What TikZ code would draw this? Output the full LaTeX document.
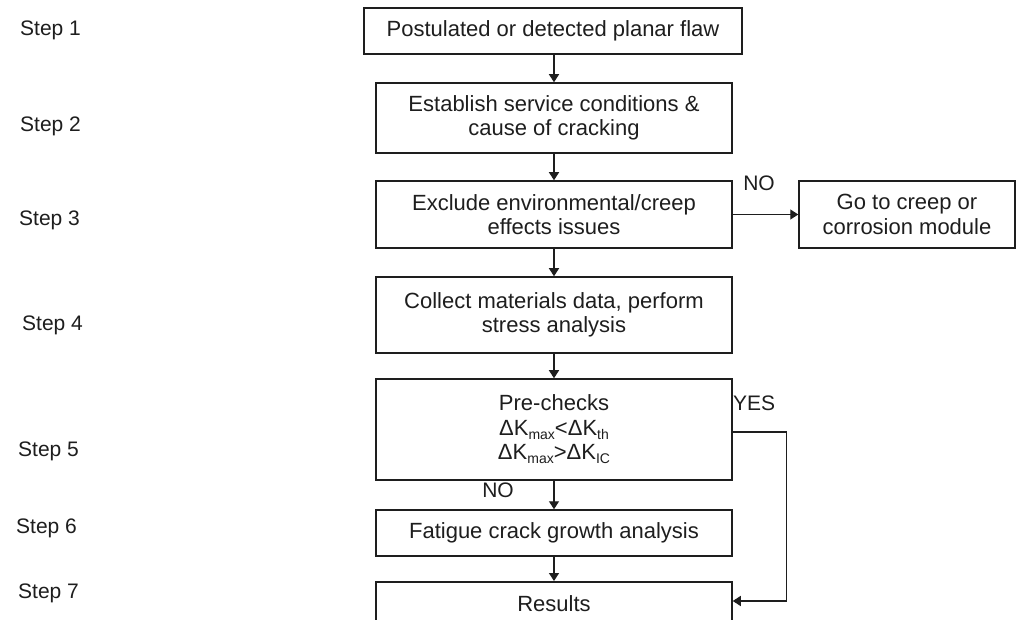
\documentclass[tikz,border=0pt]{standalone}
\usepackage{fontspec}
\setmainfont{Liberation Sans}
\usetikzlibrary{arrows.meta}
% lowered, smaller index text for the Delta K expressions
\newcommand{\lowsub}[1]{\raisebox{-0.35ex}{\fontsize{14}{14}\selectfont #1}}
\definecolor{ink}{HTML}{1E1E1E}
\begin{document}
\begin{tikzpicture}[x=1pt,y=-1pt,
  box/.style={draw=ink, line width=1.5pt, inner sep=0pt, align=center,
    minimum width=356pt, font=\fontsize{22}{24.5}\selectfont, text=ink},
  steplbl/.style={anchor=west, inner sep=0pt, font=\fontsize{21}{24}\selectfont, text=ink},
  tag/.style={inner sep=0pt, font=\fontsize{21}{24}\selectfont, text=ink},
  arr/.style={draw=ink, line width=1.3pt, -{Triangle[length=8pt,width=10pt]}}]

\useasboundingbox (0,0) rectangle (1018,620);
\clip (0,0) rectangle (1018,620);
\fill[white] (0,0) rectangle (1018,620);

% step labels
\node[steplbl] (s1) at (20,30)  {Step 1};
\node[steplbl] (s2) at (20,126) {Step 2};
\node[steplbl] (s3) at (19,220) {Step 3};
\node[steplbl] (s4) at (22,325) {Step 4};
\node[steplbl] (s5) at (18,451) {Step 5};
\node[steplbl] (s6) at (16,528) {Step 6};
\node[steplbl] (s7) at (18,593) {Step 7};

% process boxes
\node[box, minimum width=378pt, minimum height=46pt] (b1) at (553,31) {Postulated or detected planar flaw};
\node[box, minimum height=70pt] (b2) at (554,118) {Establish service conditions \&\\cause of cracking};
\node[box, minimum height=67pt] (b3) at (554,214.5) {Exclude environmental/creep\\effects issues};
\node[box, minimum width=216pt, minimum height=67pt] (go) at (907,214.5) {Go to creep or\\corrosion module};
\node[box, minimum height=76pt] (b4) at (554,315) {Collect materials data, perform\\stress analysis};
\node[box, minimum height=101pt] (b5) at (554,429.5) {Pre-checks\\ΔK\lowsub{max}<ΔK\lowsub{th}\\ΔK\lowsub{max}>ΔK\lowsub{IC}};
\node[box, minimum height=46pt] (b6) at (554,533) {Fatigue crack growth analysis};
\node[box, anchor=north, text height=16pt, text depth=30pt, inner ysep=14pt] (b7) at (554,581) {Results};

% branch labels
\node[tag] (no1) at (759,183) {NO};
\node[tag, anchor=west] (yes) at (733,403) {YES};
\node[tag] (no2) at (498,490) {NO};

% connectors
\draw[arr] (b2.north |- b1.south) -- (b2.north);
\draw[arr] (b2.south) -- (b3.north);
\draw[arr] (b3.east) -- (go.west);
\draw[arr] (b3.south) -- (b4.north);
\draw[arr] (b4.south) -- (b5.north);
\draw[arr] (b5.south) -- (b6.north);
\draw[arr] (b6.south) -- (b7.north);
\draw[arr] ([yshift=-2.5pt]b5.east) -- ++(54,0) |- ([yshift=-20pt]b7.north east);
\end{tikzpicture}
\end{document}
